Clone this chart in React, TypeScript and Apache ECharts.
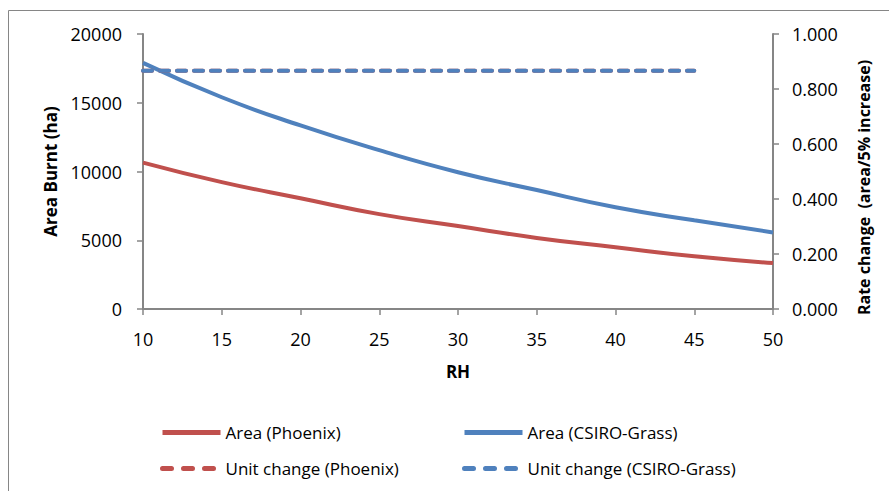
import React, { useEffect, useRef } from "react";
import * as echarts from "echarts";

const rh = [10, 15, 20, 25, 30, 35, 40, 45, 50];
const areaPhoenix = [10650, 9230, 8050, 6900, 6030, 5170, 4490, 3830, 3340];
const areaCsiro = [17900, 15400, 13350, 11550, 9950, 8650, 7400, 6450, 5570];
const unitRh = [10, 15, 20, 25, 30, 35, 40, 45];
const unitPhoenix = [0.866, 0.866, 0.866, 0.866, 0.866, 0.866, 0.866, 0.866];
const unitCsiro = [0.866, 0.866, 0.866, 0.866, 0.866, 0.866, 0.866, 0.866];

const RED = "#C0504D";
const BLUE = "#4F81BD";
const AXIS = "#868686";
const FONT = "Open Sans";

export default function App() {
  const ref = useRef<HTMLDivElement>(null);
  useEffect(() => {
    if (!ref.current) return;
    const chart = echarts.init(ref.current, null, { renderer: "svg" });
    const zip = (xs: number[], ys: number[]) => xs.map((x, i) => [x, ys[i]]);
    const axisCommon = {
      axisLine: { show: true, lineStyle: { color: AXIS, width: 2 } },
      axisTick: { show: true, inside: false, length: 6, lineStyle: { color: AXIS, width: 1.5 } },
      splitLine: { show: false },
    };
    const legendBase = (name: string, left: number, top: number, color: string, dashed: boolean) => ({
      data: [
        {
          name,
          itemStyle: { opacity: 0 },
          lineStyle: dashed
            ? { color, width: 5, type: [9, 12], cap: "round", opacity: 1 }
            : { color, width: 5, type: "solid", cap: "butt", opacity: 1 },
        },
      ],
      left,
      top,
      padding: 0,
      itemWidth: 58,
      itemHeight: 14,
      textStyle: { fontFamily: FONT, fontSize: 17, color: "#000" },
      selectedMode: false,
    });
    chart.setOption({
      animation: false,
      backgroundColor: "#fff",
      grid: { left: 143, right: 116, top: 34, bottom: 182 },
      graphic: [
        {
          type: "rect",
          shape: { x: 8.5, y: 10.5, width: 1000, height: 600 },
          style: { fill: "none", stroke: AXIS, lineWidth: 1 },
          silent: true,
          z: -10,
        },
      ],
      legend: [
        legendBase("Area (Phoenix)", 160, 424, RED, false),
        legendBase("Area (CSIRO-Grass)", 462, 424, BLUE, false),
        legendBase("Unit change (Phoenix)", 160, 460, RED, true),
        legendBase("Unit change (CSIRO-Grass)", 462, 460, BLUE, true),
      ],
      xAxis: {
        type: "value",
        min: 10,
        max: 50,
        interval: 5,
        name: "RH",
        nameLocation: "middle",
        nameGap: 54,
        nameTextStyle: { fontFamily: FONT, fontSize: 17, fontWeight: "bold", color: "#000" },
        axisLabel: { fontFamily: FONT, fontSize: 18, color: "#000", margin: 21 },
        ...axisCommon,
      },
      yAxis: [
        {
          type: "value",
          min: 0,
          max: 20000,
          interval: 5000,
          position: "left",
          name: "Area Burnt (ha)",
          nameLocation: "middle",
          nameGap: 84,
          nameTextStyle: { fontFamily: FONT, fontSize: 17, fontWeight: "bold", color: "#000" },
          axisLabel: {
            fontFamily: FONT,
            fontSize: 18,
            color: "#000",
            margin: 21,
            formatter: (v: number) => String(v),
          },
          ...axisCommon,
        },
        {
          type: "value",
          min: 0,
          max: 1,
          interval: 0.2,
          position: "right",
          name: "Rate change  (area/5% increase)",
          nameLocation: "middle",
          nameGap: 83,
          nameTextStyle: {
            fontFamily: FONT,
            fontSize: 16,
            fontWeight: "bold",
            color: "#000",
            padding: [0, 32, 0, 0],
          },
          axisLabel: {
            fontFamily: FONT,
            fontSize: 18,
            color: "#000",
            margin: 19,
            formatter: (v: number) => v.toFixed(3),
          },
          ...axisCommon,
        },
      ],
      series: [
        {
          name: "Area (Phoenix)",
          type: "line",
          data: zip(rh, areaPhoenix),
          smooth: true,
          symbol: "none",
          lineStyle: { color: RED, width: 4 },
          itemStyle: { color: RED },
        },
        {
          name: "Area (CSIRO-Grass)",
          type: "line",
          data: zip(rh, areaCsiro),
          smooth: true,
          symbol: "none",
          lineStyle: { color: BLUE, width: 4 },
          itemStyle: { color: BLUE },
        },
        {
          name: "Unit change (Phoenix)",
          type: "line",
          yAxisIndex: 1,
          data: zip(unitRh, unitPhoenix),
          symbol: "none",
          lineStyle: { color: RED, width: 4, type: [9, 8], cap: "round" },
          itemStyle: { color: RED },
        },
        {
          name: "Unit change (CSIRO-Grass)",
          type: "line",
          yAxisIndex: 1,
          data: zip(unitRh, unitCsiro),
          symbol: "none",
          lineStyle: { color: BLUE, width: 4, type: [9, 8], cap: "round" },
          itemStyle: { color: BLUE },
        },
      ],
    });
    return () => chart.dispose();
  }, []);
  return (
    <div
      ref={ref}
      style={{ position: "fixed", left: 0, top: 0, width: 889, height: 491, background: "#fff" }}
    />
  );
}
